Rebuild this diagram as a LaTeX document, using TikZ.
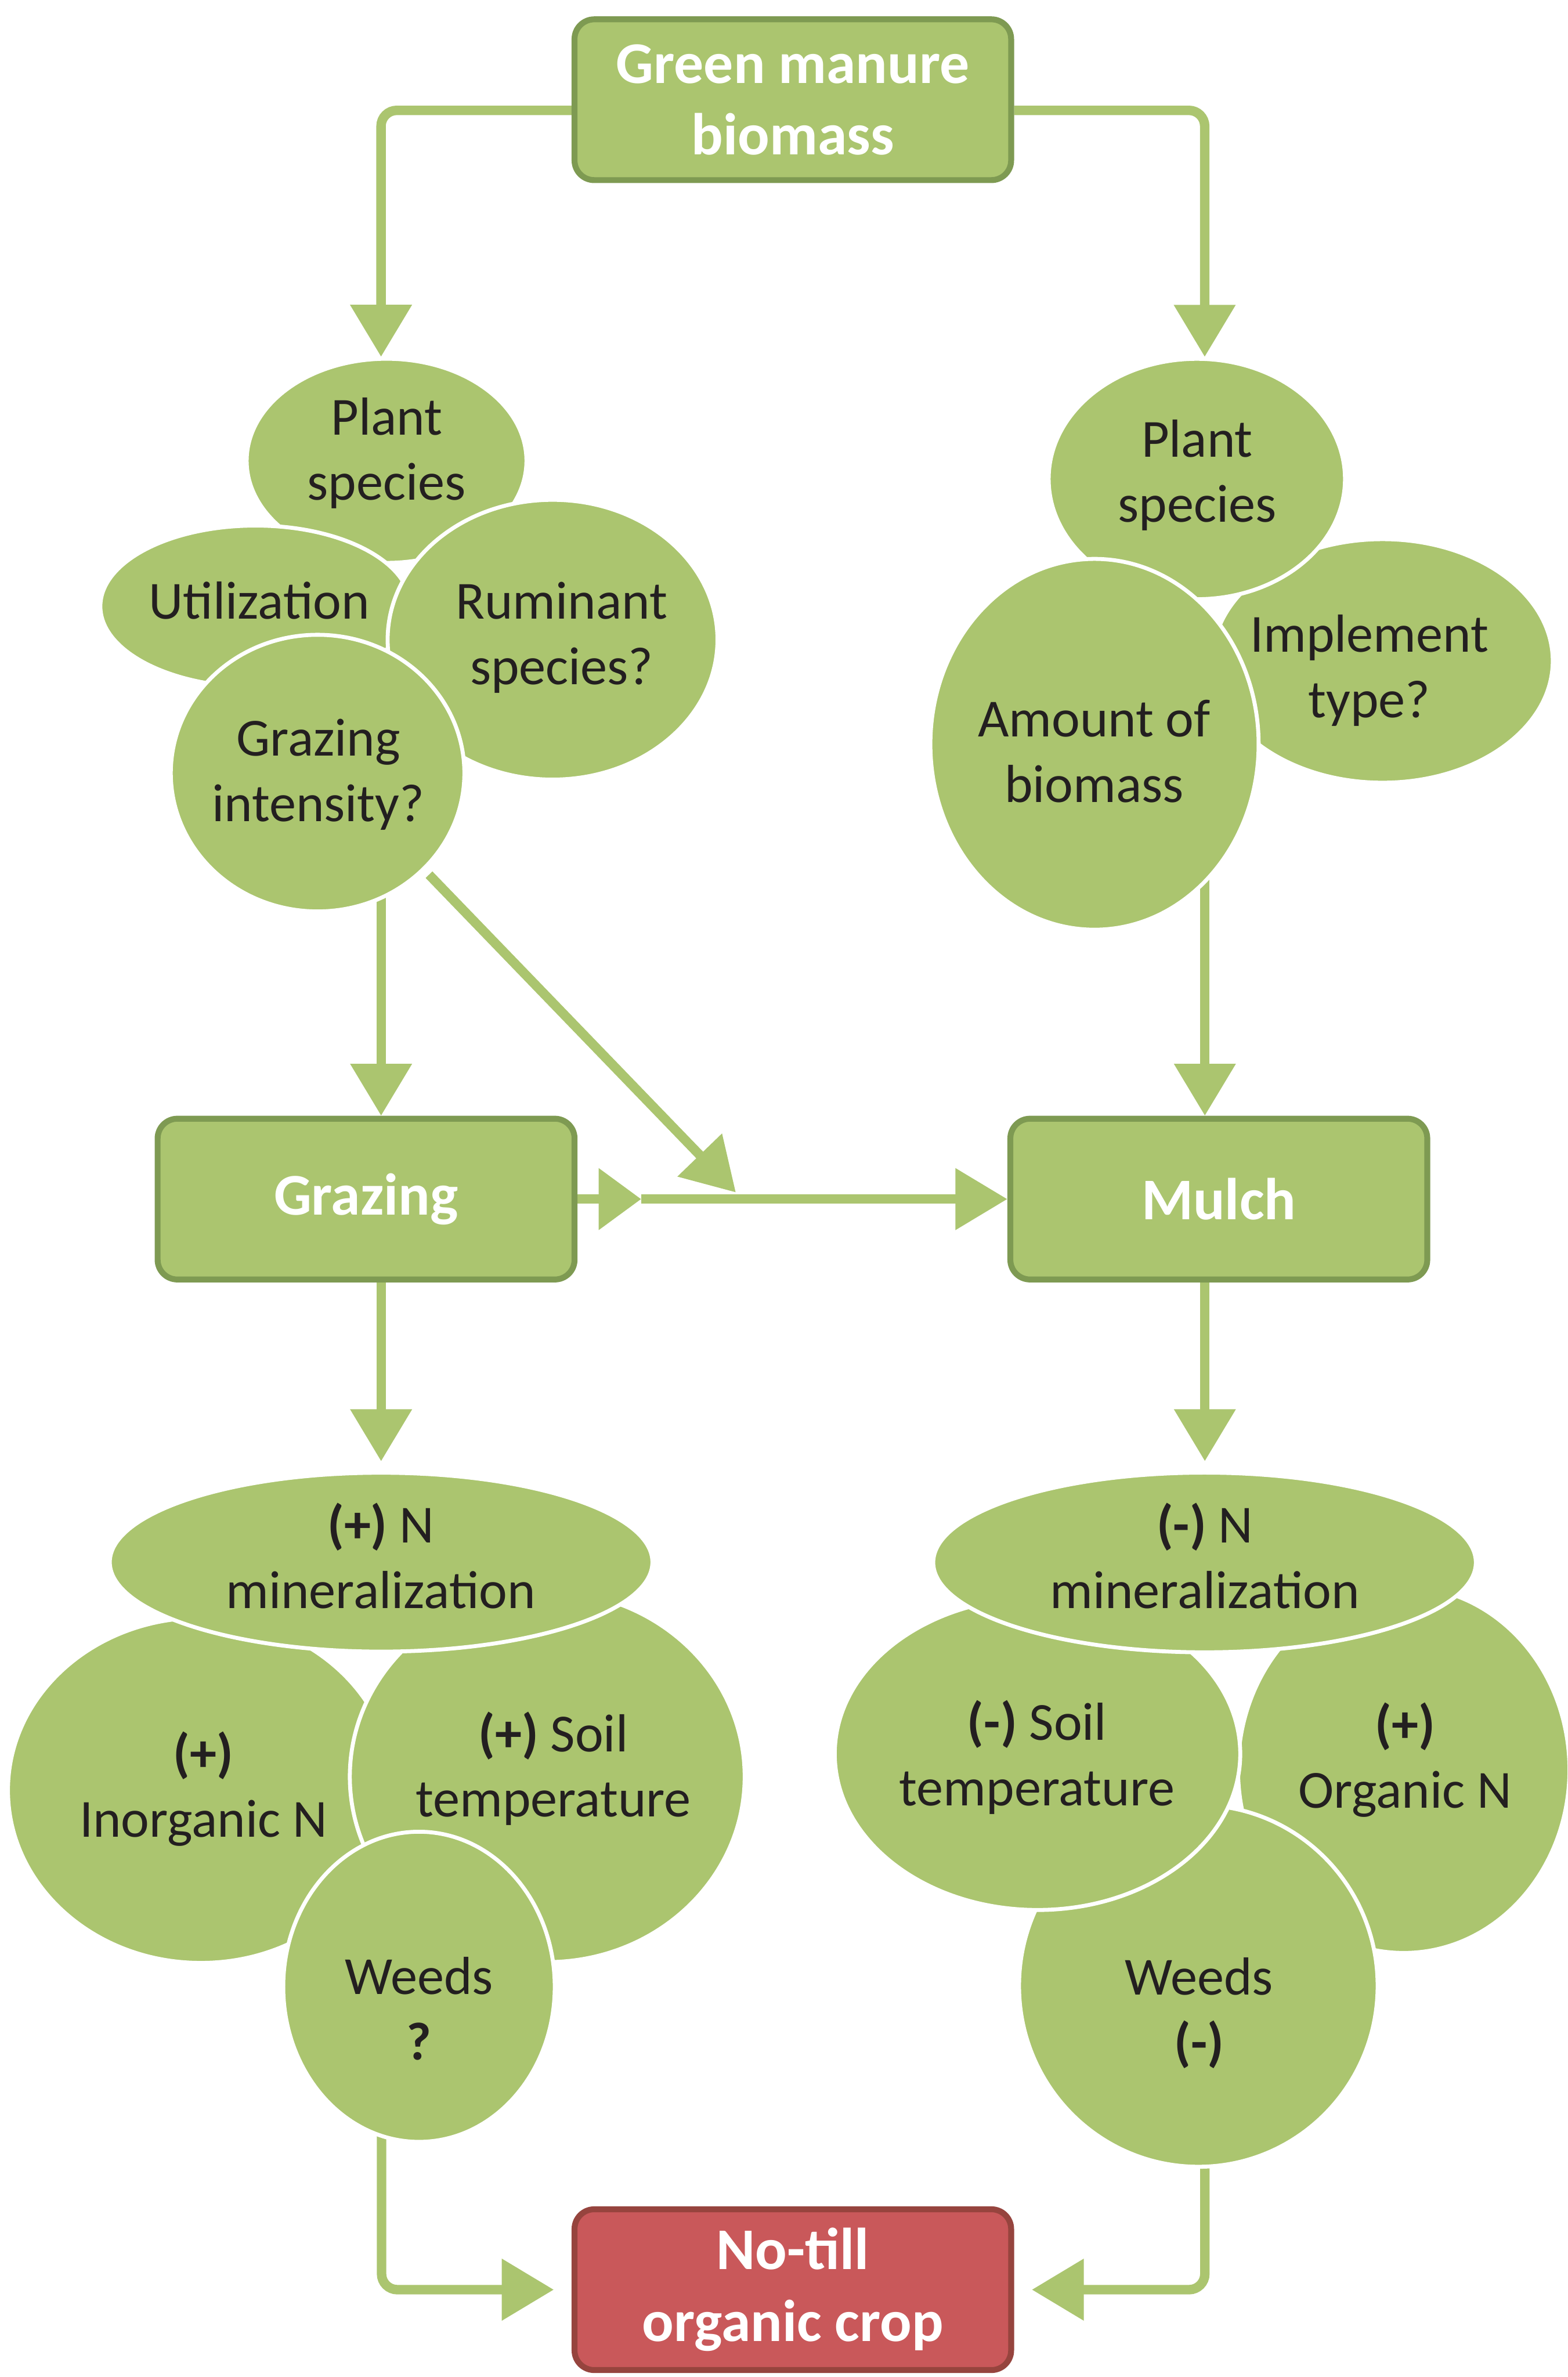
\documentclass[tikz,border=0pt]{standalone}
\usepackage{fontspec}
\setmainfont{Carlito}
\usetikzlibrary{arrows.meta,shapes.geometric,backgrounds}
\definecolor{gfill}{HTML}{ABC56F}
\definecolor{gline}{HTML}{7E9A52}
\definecolor{rfill}{HTML}{C9585A}
\definecolor{rline}{HTML}{96443E}
\definecolor{ink}{HTML}{231F20}
\begin{document}
\begin{tikzpicture}[x=3.847pt,y=3.847pt,
 bub/.style={ellipse, fill=gfill, draw=white, line width=10pt, inner sep=0pt},
 btxt/.style={align=center, text=ink, inner sep=0pt, font=\fontsize{136pt}{166pt}\selectfont},
 gbox/.style={rectangle, rounded corners=50pt, fill=gfill, draw=gline, line width=15pt, align=center, text=white, font=\bfseries\fontsize{150pt}{182pt}\selectfont, minimum height=408pt, inner sep=0pt},
 rbox/.style={gbox, fill=rfill, draw=rline},
 conn/.style={draw=gfill, line width=24pt, -{Triangle[width=151pt,length=132pt]}},
 connshort/.style={draw=gfill, line width=24pt, -{Triangle[width=151pt,length=108pt]}},
]
\useasboundingbox (0,0) rectangle (1034,1568);

% boxes
\node[gbox, minimum width=1108pt] (top) at (523,1502.2) {Green manure\\biomass};
\node[gbox, minimum width=1058pt] (graz) at (241.5,777) {Grazing};
\node[gbox, minimum width=1058pt] (mulch) at (804,777) {Mulch};
\node[rbox, minimum width=1108pt] (crop) at (523,57.6) {No-till\\organic crop};

% upper left cluster
\node[bub, minimum width=710pt, minimum height=518pt] (lps) at (255,1264) {};
\node[bub, minimum width=787pt, minimum height=410pt] (util) at (168.5,1168) {};
\node[bub, minimum width=837pt, minimum height=710pt] (rum) at (364.5,1146) {};
\node[bub, minimum width=745pt, minimum height=702pt] (gi) at (209.5,1058) {};

% upper right cluster
\node[bub, minimum width=864pt, minimum height=618pt] (impl) at (912,1132) {};
\node[bub, minimum width=752pt, minimum height=610pt] (rps) at (789.5,1252) {};
\node[bub, minimum width=833pt, minimum height=941pt] (amt) at (722,1077) {};

% lower left cluster
\node[bub, minimum width=979pt, minimum height=876pt] (inorg) at (132.5,387) {};
\node[bub, minimum width=1002pt, minimum height=941pt] (soilL) at (361,396) {};
\node[bub, minimum width=1377pt, minimum height=454pt] (nminL) at (251.4,537.5) {};
\node[bub, minimum width=689pt, minimum height=787pt] (weedsL) at (276.4,257.4) {};

% lower right cluster
\node[bub, minimum width=841pt, minimum height=930pt] (orgN) at (926,400.6) {};
\node[bub, minimum width=910pt, minimum height=918pt] (weedsR) at (790.5,258) {};
\node[bub, minimum width=1029pt, minimum height=792pt] (soilR) at (684.4,411) {};
\node[bub, minimum width=1377pt, minimum height=456pt] (nminR) at (794.6,537.3) {};

% texts
\node[btxt] (lps-t) at (255,1269) {Plant\\species};
\node[btxt] (util-t) at (171,1172) {Utilization};
\node[btxt] (rum-t) at (370.5,1147.5) {Ruminant\\species?};
\node[btxt] (gi-t) at (210,1057) {Grazing\\intensity?};
\node[btxt] (rps-t) at (789.7,1254.5) {Plant\\species};
\node[btxt] (impl-t) at (903.3,1125.7) {Implement\\type?};
\node[btxt] (amt-t) at (721.8,1072.5) {Amount of\\biomass};
\node[btxt] (nminL-t) at (251.2,541.6) {\textbf{(+)} N\\mineralization};
\node[btxt] (inorg-t) at (134.2,388) {\textbf{(+)}\\Inorganic N};
\node[btxt] (soilL-t) at (365,401.3) {\textbf{(+)} Soil\\temperature};
\node[btxt] (weedsL-t) at (276.5,243) {Weeds\\\textbf{?}};
\node[btxt] (nminR-t) at (794.8,541.6) {\textbf{(-)} N\\mineralization};
\node[btxt] (soilR-t) at (684.1,408.8) {\textbf{(-)} Soil\\temperature};
\node[btxt] (orgN-t) at (926.9,407) {\textbf{(+)}\\Organic N};
\node[btxt] (weedsR-t) at (791,240) {Weeds\\\textbf{(-)}};

% connector end points
\coordinate (gi-s) at (251.4,977);
\coordinate (gi-d) at (283,991);
\coordinate (diag-tip) at (485.4,781.4);
\coordinate (mid) at (423,777);
\coordinate (amt-s) at (794.8,988.3);
\coordinate (wl-s) at (251.7,160.4);
\coordinate (wr-s) at (794.8,140.1);

\begin{pgfonlayer}{background}
\draw[conn, rounded corners=40pt] ([yshift=-27pt]top.west) -| ([xshift=-14pt]lps.north);
\draw[conn, rounded corners=40pt] ([yshift=-27pt]top.east) -| ([xshift=20pt]rps.north);
\draw[conn] (gi-s) -- (gi-s |- graz.north);
\draw[conn] (gi-d) -- (diag-tip);
\draw[connshort] (graz.east) -- (mid);
\draw[conn] (mid) -- (mulch.west);
\draw[conn] (amt-s) -- (amt-s |- mulch.north);
\draw[conn, shorten >=24pt] (gi-s |- graz.south) -- (gi-s |- nminL.north);
\draw[conn, shorten >=24pt] (amt-s |- mulch.south) -- (amt-s |- nminR.north);
\draw[conn, rounded corners=40pt, shorten >=45pt] (wl-s) |- (crop.west);
\draw[conn, rounded corners=40pt, shorten >=45pt] (wr-s) |- (crop.east);
\end{pgfonlayer}
\end{tikzpicture}
\end{document}
